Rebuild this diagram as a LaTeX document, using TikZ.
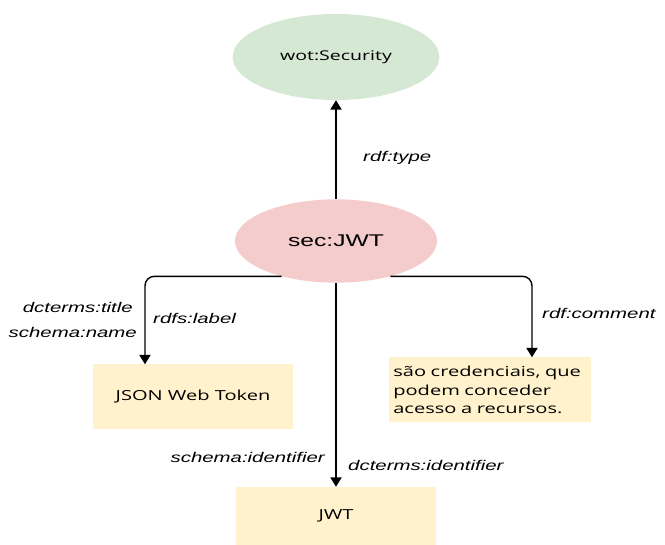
\documentclass[tikz,border=0pt]{standalone}
\usepackage{fontspec}
\setmainfont{Liberation Sans}[FakeStretch=1.45]
\newfontfamily\boxfont{Open Sans}[FakeStretch=1.45]
\usetikzlibrary{shapes.geometric,arrows.meta}

\definecolor{classgreen}{RGB}{213,232,212}
\definecolor{instpink}{RGB}{244,204,204}
\definecolor{lityellow}{RGB}{255,242,204}

\tikzset{
    classnode/.style={ellipse, fill=classgreen, minimum width=6.2cm, minimum height=2.58cm,
        font=\boxfont\fontsize{11.5pt}{14pt}\selectfont},
    instnode/.style={ellipse, fill=instpink, minimum width=6.06cm, minimum height=2.5cm,
        font=\fontsize{14.5pt}{17pt}\selectfont},
    litnode/.style={rectangle, fill=lityellow, minimum width=6cm, minimum height=1.95cm,
        font=\boxfont\fontsize{11.8pt}{15.8pt}\selectfont},
    proplabel/.style={font=\itshape\fontsize{12pt}{14pt}\selectfont, inner sep=0pt},
    relation/.style={line width=1.2pt, -{Triangle[length=8pt,width=9.5pt]}},
}

\begin{document}
\begin{tikzpicture}[x=0.03cm, y=-0.03cm]
    \useasboundingbox (0,0) rectangle (665,545);
    \node[classnode] (security) at (336,57) {wot:Security};
    \node[instnode] (jwt) at (336,241) {sec:JWT};
    \node[litnode] (name) at (193,397) {JSON Web Token};
    \node[litnode, align=left, text width=5.8cm] (comment) at (490,390)
        {são credenciais, que\\podem conceder\\acesso a recursos.};
    \node[litnode, minimum height=1.74cm] (ident) at (336,516) {JWT};

    \draw[relation] (jwt.north) -- (security.south);
    \draw[relation, rounded corners=8] (jwt.-147) -| ([xshift=-1.44cm]name.north);
    \draw[relation, rounded corners=8] (jwt.-33) -| ([xshift=1.26cm]comment.north);
    \draw[relation] (jwt.south) -- (ident.north);

    \node[proplabel, anchor=west] (type) at (363,158) {rdf:type};
    \node[proplabel, anchor=east] (title) at (133,307) {dcterms:title};
    \node[proplabel, anchor=east] (sname) at (137,332) {schema:name};
    \node[proplabel, anchor=west] (label) at (153,318) {rdfs:label};
    \node[proplabel, anchor=west] (rcomment) at (542,313) {rdf:comment};
    \node[proplabel, anchor=east] (sident) at (325,457) {schema:identifier};
    \node[proplabel, anchor=west] (dident) at (348,465) {dcterms:identifier};
\end{tikzpicture}
\end{document}
